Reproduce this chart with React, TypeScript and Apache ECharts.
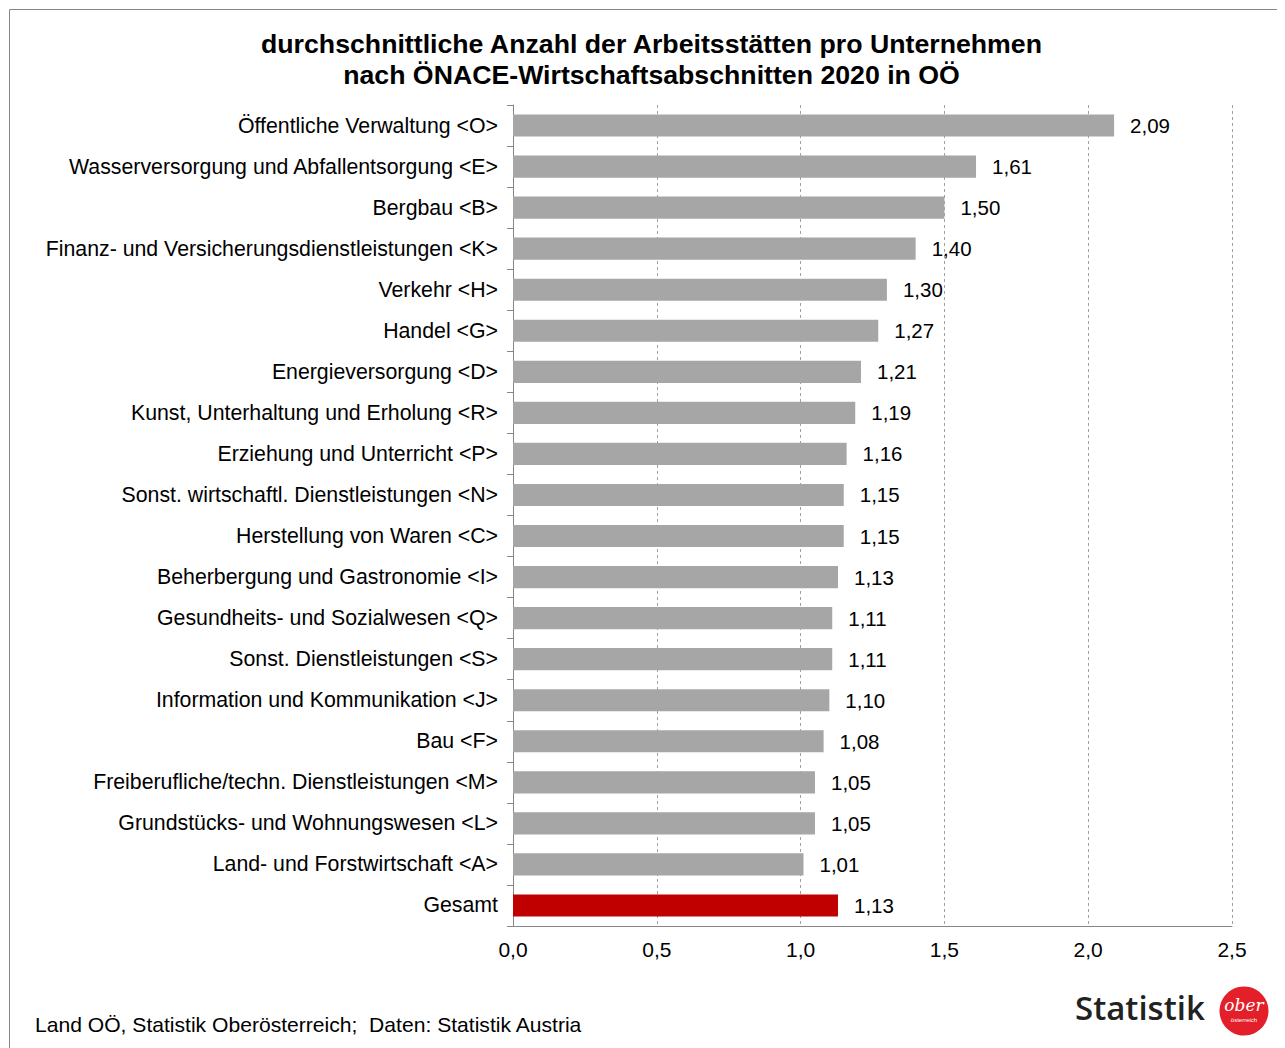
import React, { useEffect, useRef } from "react";
import * as echarts from "echarts";

const categories = [
  "Öffentliche Verwaltung <O>",
  "Wasserversorgung und Abfallentsorgung <E>",
  "Bergbau <B>",
  "Finanz- und Versicherungsdienstleistungen <K>",
  "Verkehr <H>",
  "Handel <G>",
  "Energieversorgung <D>",
  "Kunst, Unterhaltung und Erholung <R>",
  "Erziehung und Unterricht <P>",
  "Sonst. wirtschaftl. Dienstleistungen <N>",
  "Herstellung von Waren <C>",
  "Beherbergung und Gastronomie <I>",
  "Gesundheits- und Sozialwesen <Q>",
  "Sonst. Dienstleistungen <S>",
  "Information und Kommunikation <J>",
  "Bau <F>",
  "Freiberufliche/techn. Dienstleistungen <M>",
  "Grundstücks- und Wohnungswesen <L>",
  "Land- und Forstwirtschaft <A>",
  "Gesamt",
];

const values = [
  2.09, 1.61, 1.5, 1.4, 1.3, 1.27, 1.21, 1.19, 1.16, 1.15, 1.15, 1.13, 1.11,
  1.11, 1.1, 1.08, 1.05, 1.05, 1.01, 1.13,
];

const highlighted = ["Gesamt"];

const titleLines = [
  "durchschnittliche Anzahl der Arbeitsstätten pro Unternehmen",
  "nach ÖNACE-Wirtschaftsabschnitten 2020 in OÖ",
];

const sourceText = "Land OÖ, Statistik Oberösterreich;  Daten: Statistik Austria";

const FONT = "'Liberation Sans', Arial, sans-serif";

export default function App() {
  const ref = useRef<HTMLDivElement>(null);

  useEffect(() => {
    if (!ref.current) return;
    const chart = echarts.init(ref.current, null, { renderer: "svg" });
    const fmt = (v: number, d: number) => v.toFixed(d).replace(".", ",");
    chart.setOption({
      animation: false,
      backgroundColor: "#ffffff",
      textStyle: { fontFamily: FONT },
      title: {
        text: titleLines.join("\n"),
        left: 638.5,
        top: 15,
        textAlign: "center",
        textStyle: {
          fontFamily: FONT,
          fontSize: 26.7,
          fontWeight: "bold",
          color: "#000000",
          lineHeight: 31,
          align: "center",
        },
      },
      grid: { left: 505, right: 53, top: 97, bottom: 122, containLabel: false },
      xAxis: {
        type: "value",
        min: 0,
        max: 2.5,
        interval: 0.5,
        axisLine: { show: true, lineStyle: { color: "#868686", width: 1 } },
        axisTick: { show: false },
        axisLabel: {
          fontFamily: FONT,
          fontSize: 21,
          color: "#000000",
          margin: 13,
          formatter: (v: number) => fmt(v, 1),
        },
        splitLine: {
          show: true,
          lineStyle: { color: "#a0a0a0", type: [3, 3], width: 1 },
        },
      },
      yAxis: {
        type: "category",
        data: categories,
        inverse: true,
        axisLine: { show: true, lineStyle: { color: "#868686", width: 1 } },
        axisTick: { show: true, length: 6, lineStyle: { color: "#868686" } },
        axisLabel: {
          fontFamily: FONT,
          fontSize: 21.3,
          color: "#000000",
          margin: 15,
        },
      },
      series: [
        {
          type: "bar",
          data: values.map((v, i) => ({
            value: v,
            itemStyle: {
              color: highlighted.includes(categories[i]) ? "#c00000" : "#a6a6a6",
            },
          })),
          barCategoryGap: "46%",
          label: {
            show: true,
            position: "right",
            distance: 16,
            fontFamily: FONT,
            fontSize: 20.5,
            color: "#000000",
            formatter: (p: any) => fmt(p.value, 2),
          },
        },
      ],
      graphic: [
        {
          type: "rect",
          silent: true,
          shape: { x: 1.5, y: 1.5, width: 1400, height: 1400 },
          style: { fill: "none", stroke: "#868686", lineWidth: 1 },
        },
        {
          type: "text",
          left: 27,
          top: 1006,
          style: {
            text: sourceText,
            fontFamily: FONT,
            fontSize: 21.1,
            fill: "#000000",
          },
        },
        {
          type: "text",
          x: 1067,
          y: 999,
          style: {
            text: "Statistik",
            fontFamily: "'Open Sans', sans-serif",
            fontWeight: 600,
            fontSize: 33,
            fill: "#222222",
            textVerticalAlign: "middle",
          },
        },
        {
          type: "circle",
          shape: { cx: 1236, cy: 1003, r: 24.5 },
          style: { fill: "#e3202a" },
        },
        {
          type: "text",
          x: 1236,
          y: 997,
          style: {
            text: "ober",
            fontFamily: "'DejaVu Serif', serif",
            fontStyle: "italic",
            fontSize: 17,
            fill: "#ffffff",
            textAlign: "center",
            textVerticalAlign: "middle",
          },
        },
        {
          type: "text",
          x: 1236,
          y: 1012,
          style: {
            text: "österreich",
            fontFamily: FONT,
            fontSize: 6,
            fill: "#ffffff",
            textAlign: "center",
            textVerticalAlign: "middle",
          },
        },
      ],
    });
    return () => chart.dispose();
  }, []);

  return <div ref={ref} style={{ width: 1277, height: 1040, overflow: "hidden" }} />;
}
